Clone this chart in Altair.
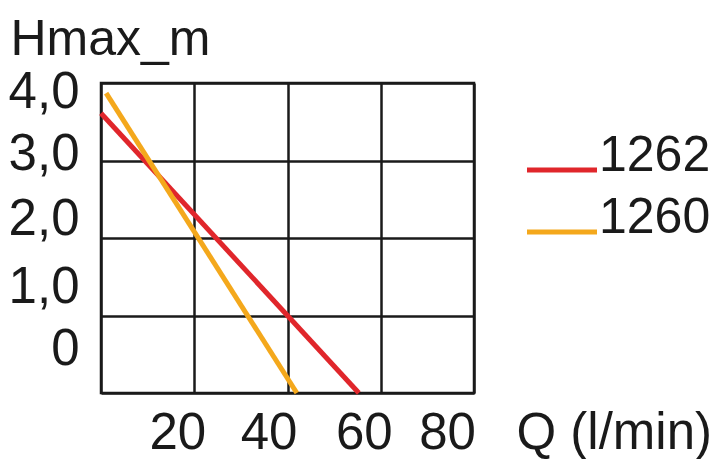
import altair as alt
import pandas as pd

# ---- data ----
series_names = ["1262", "1260"]
series_colors = ["#E0262B", "#F4A81C"]
q_1262 = [0.0, 55.3]
h_1262 = [3.61, 0.0]
q_1260 = [1.1, 42.0]
h_1260 = [3.87, 0.0]

x_ticks = [0, 20, 40, 60, 80]
x_tick_labels = ["", "20", "40", "60", "80"]
y_ticks = [0, 1, 2, 3, 4]
y_tick_labels = ["0", "1,0", "2,0", "3,0", "4,0"]
x_title = "Q (l/min)"
y_title = "Hmax_m"

# ---- styling (not data) ----
FONT = "Liberation Sans"
FS = 51
FS_LEG = 50
FS_TITLE = 50
INK = "#1a1a1a"
x_label_shift = {20: -17, 40: -19, 60: -17, 80: -27}
y_label_shift = {0: -44, 1: -28, 2: -19, 3: -6, 4: 9}

rows = []
for name, qs, hs in [("1262", q_1262, h_1262), ("1260", q_1260, h_1260)]:
    for i, (q, h) in enumerate(zip(qs, hs)):
        rows.append({"Q": q, "H": h, "series": name, "order": i})
df = pd.DataFrame(rows)


def label_expr(values, labels):
    expr = "''"
    for v, l in reversed(list(zip(values, labels))):
        expr = f"datum.value == {v} ? '{l}' : ({expr})"
    return expr


def offset_cond(shifts):
    return {
        "condition": [{"test": f"datum.value == {v}", "value": s} for v, s in shifts.items()],
        "value": 0,
    }


x_axis = alt.Axis(
    values=x_ticks,
    labelExpr=label_expr(x_ticks, x_tick_labels),
    labelOffset=offset_cond(x_label_shift),
    labelFlush=False,
    labelOverlap=False,
    labelBound=False,
    labelBaseline="alphabetic",
    labelPadding=55,
    labelFont=FONT,
    labelFontSize=FS,
    labelColor=INK,
    ticks=False,
    tickSize=0,
    domain=False,
    grid=True,
    title=x_title,
    titleFont=FONT,
    titleFontSize=FS,
    titleFontWeight="normal",
    titleColor=INK,
    titleAlign="left",
    titleBaseline="alphabetic",
    titleX=415,
    titleY=55,
)

y_axis = alt.Axis(
    values=y_ticks,
    labelExpr=label_expr(y_ticks, y_tick_labels),
    labelOffset=offset_cond(y_label_shift),
    labelFlush=False,
    labelOverlap=False,
    labelBound=False,
    labelAlign="right",
    labelBaseline="middle",
    labelPadding=22,
    labelFont=FONT,
    labelFontSize=FS,
    labelColor=INK,
    ticks=False,
    tickSize=0,
    domain=False,
    grid=True,
    title=y_title,
    titleFont=FONT,
    titleFontSize=FS_TITLE,
    titleFontWeight="normal",
    titleColor=INK,
    titleAngle=0,
    titleAlign="left",
    titleBaseline="alphabetic",
    titleX=-91,
    titleY=-29,
)

chart = (
    alt.Chart(df)
    .mark_line(strokeWidth=5)
    .encode(
        x=alt.X("Q:Q", scale=alt.Scale(domain=[0, 80], nice=False, zero=False), axis=x_axis),
        y=alt.Y("H:Q", scale=alt.Scale(domain=[0, 4], nice=False), axis=y_axis),
        color=alt.Color(
            "series:N",
            scale=alt.Scale(domain=series_names, range=series_colors),
            legend=alt.Legend(
                title=None,
                orient="none",
                legendX=436,
                legendY=48,
                symbolType="M-2,0.8H2",
                symbolSize=1225,
                symbolStrokeWidth=5,
                labelFont=FONT,
                labelFontSize=FS_LEG,
                labelColor=INK,
                labelOffset=12,
                rowPadding=12,
                padding=0,
                labelLimit=400,
            ),
        ),
        order="order:Q",
    )
    .properties(
        width=373,
        height=310,
        background="white",
        autosize=alt.AutoSizeParams(type="none"),
        padding={"left": 93, "top": 75, "right": 238, "bottom": 66},
    )
    .configure_view(stroke=INK, strokeWidth=2.5)
    .configure_axis(gridColor=INK, gridWidth=2.5, gridOpacity=1)
)

chart.save("out.html", embed_options={"renderer": "svg", "actions": False})
